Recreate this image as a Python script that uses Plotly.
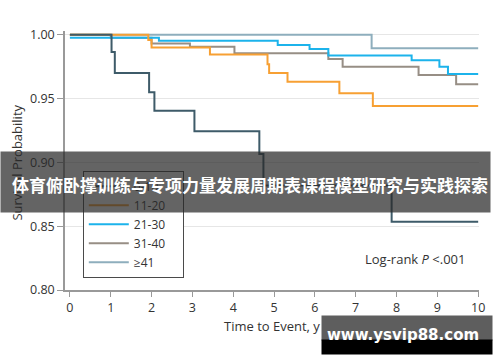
import plotly.graph_objects as go

# ---- data ----
groups = ["0-10", "11-20", "21-30", "31-40", "≥41"]
colors = ["#3e5b69", "#f7a033", "#1cb3eb", "#978e85", "#8eaebd"]

t_0_10 = [0, 1.02, 1.10, 1.94, 2.07, 3.05, 4.64, 4.74, 7.88, 10]
s_0_10 = [1.0, 0.9865, 0.970, 0.955, 0.9405, 0.9245, 0.9065, 0.882, 0.8535, 0.8535]

t_11_20 = [0, 1.92, 2.00, 3.43, 4.84, 4.88, 5.33, 6.60, 7.42, 10]
s_11_20 = [1.0, 0.996, 0.990, 0.9845, 0.977, 0.970, 0.9633, 0.9542, 0.9443, 0.9443]

t_21_30 = [0, 2.18, 5.09, 5.87, 6.33, 8.37, 9.05, 9.26, 10]
s_21_30 = [0.9977, 0.9953, 0.992, 0.9888, 0.9838, 0.980, 0.975, 0.9693, 0.9693]

t_31_40 = [0, 1.0, 2.0, 2.94, 4.03, 6.33, 6.68, 8.54, 9.46, 10]
s_31_40 = [1.0, 0.9977, 0.9933, 0.9906, 0.9855, 0.981, 0.975, 0.9685, 0.9612, 0.9612]

t_41 = [0, 7.39, 10]
s_41 = [1.0, 0.9894, 0.9894]

x_ticks = list(range(0, 11))
y_ticks = [0.80, 0.85, 0.90, 0.95, 1.00]

title_text = "体育俯卧撑训练与专项力量发展周期表课程模型研究与实践探索"
watermark = "www.ysvip88.com"

series = [(t_0_10, s_0_10), (t_11_20, s_11_20), (t_21_30, s_21_30),
          (t_31_40, s_31_40), (t_41, s_41)]

FONT = "Open Sans, Noto Sans, sans-serif"
PAD = "\u00a0" * 4  # right padding inside the legend box

fig = go.Figure()
# draw order: light ones first, dark one on top
draw_order = [4, 3, 2, 1, 0]
for i in draw_order:
    t, s = series[i]
    fig.add_trace(go.Scatter(
        x=t, y=s, mode="lines", name=groups[i] + PAD,
        line=dict(color=colors[i], width=2, shape="hv"),
        legendrank=i + 1, hoverinfo="skip"))

fig.update_layout(
    width=500, height=362,
    margin=dict(l=65, r=21, t=31, b=72),
    paper_bgcolor="white", plot_bgcolor="white",
    font=dict(family=FONT, size=12, color="#333333"),
    showlegend=True,
    legend=dict(x=0.043, y=0.0475, xanchor="left", yanchor="bottom",
                bgcolor="white", bordercolor="#4a4a4a", borderwidth=1,
                font=dict(size=12, color="#333333", family=FONT),
                itemwidth=40),
    xaxis=dict(range=[-0.12, 10.02], tickvals=x_ticks, showgrid=False,
               zeroline=False, showline=True, linecolor="#999999", linewidth=1.5,
               ticks="outside", ticklen=5, tickcolor="#999999", tickwidth=1.2,
               tickfont=dict(size=12.5, color="#333333")),
    yaxis=dict(range=[0.8, 1.003], tickvals=y_ticks, tickformat=".2f",
               showgrid=True, gridcolor="#e6e6e6", gridwidth=1.2,
               zeroline=False, showline=True, linecolor="#999999", linewidth=1.5,
               ticks="outside", ticklen=6, tickcolor="#999999", tickwidth=1.2,
               tickfont=dict(size=12.5, color="#333333")),
)

annotations = [
    dict(text="Survival Probability", xref="paper", yref="paper",
         x=-0.1147, y=0.49, textangle=-90, showarrow=False,
         xanchor="center", yanchor="middle",
         font=dict(size=13, color="#333333", family=FONT)),
    dict(text="Time to Event, y", xref="paper", yref="paper",
         x=0.5, y=-0.138, showarrow=False, xanchor="center", yanchor="middle",
         font=dict(size=13, color="#333333", family=FONT)),
    dict(text="Log-rank <i>P</i> &lt;.001", xref="paper", yref="paper",
         x=0.970, y=0.1197, showarrow=False, xanchor="right", yanchor="middle",
         font=dict(size=13, color="#333333", family=FONT)),
    # banner background
    dict(text=" ", xref="paper", yref="paper",
         x=-0.157, y=0.5367, xanchor="left", yanchor="top",
         width=489, height=60, bgcolor="rgba(40,40,40,0.72)", borderpad=0,
         showarrow=False),
    # banner text
    dict(text="<b>" + title_text + "</b>", xref="paper", yref="paper",
         x=-0.157 + 250 / 414, y=(290 - 184.5) / 259, xanchor="center",
         yanchor="middle", showarrow=False,
         font=dict(size=17, color="white", family="Noto Sans CJK SC")),
    # watermark boxes
    dict(text=" ", xref="paper", yref="paper",
         x=(321 - 65) / 414, y=(290 - 315) / 259, xanchor="left", yanchor="top",
         width=170, height=24, bgcolor="#5e5e5e", borderpad=0, showarrow=False),
    dict(text=" ", xref="paper", yref="paper",
         x=(321 - 65) / 414, y=(290 - 339) / 259, xanchor="left", yanchor="top",
         width=170, height=14, bgcolor="#000000", borderpad=0, showarrow=False),
    dict(text="<b>" + watermark + "</b>", xref="paper", yref="paper",
         x=(403 - 65) / 414, y=(290 - 335) / 259, xanchor="center",
         yanchor="middle", showarrow=False,
         font=dict(size=15, color="white", family="DejaVu Sans")),
]
fig.update_layout(annotations=annotations)

fig.write_html("out.html",
               config={"displayModeBar": False},
               post_script="document.body.style.margin='0';"
                           "document.body.style.padding='0';")
